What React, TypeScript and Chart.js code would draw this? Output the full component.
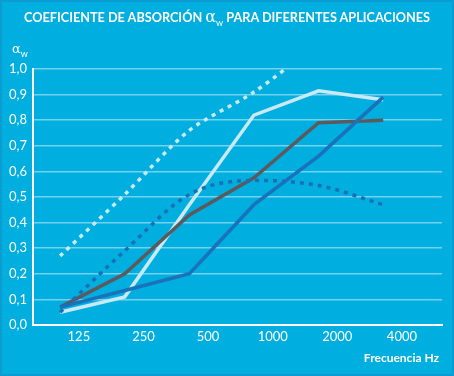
import React, { useEffect, useRef } from "react";
import { Chart, registerables } from "chart.js";

Chart.register(...registerables);

const categories = ["125", "250", "500", "1000", "2000", "4000"];
const yTicks = [0, 0.1, 0.2, 0.3, 0.4, 0.5, 0.6, 0.7, 0.8, 0.9, 1.0];

const grayLine = [0.07, 0.2, 0.43, 0.575, 0.79, 0.8];
const blueLine = [0.07, 0.135, 0.2, 0.47, 0.66, 0.89];
const lightLine = [0.05, 0.11, 0.47, 0.82, 0.915, 0.88];
const lightDashed = [0.27, 0.51, 0.76, 0.91, 1.1, null];
const blueDashed = [0.05, 0.29, 0.51, 0.565, 0.545, 0.47];

const BG = "#00AEE0";
const FONT = "Lato, 'Noto Sans', sans-serif";

const toPoints = (arr: (number | null)[]) =>
  arr.map((v, i) => ({ x: i, y: v }));

export default function App() {
  const ref = useRef<HTMLCanvasElement | null>(null);

  useEffect(() => {
    document.body.style.margin = "0";
    if (!ref.current) return;
    const chart = new Chart(ref.current, {
      type: "line",
      data: {
        datasets: [
          {
            data: toPoints(lightDashed),
            borderColor: "#c9e9f6",
            borderWidth: 3.5,
            borderDash: [4, 5],
            tension: 0.3,
            pointRadius: 0,
            spanGaps: false,
          },
          {
            data: toPoints(blueDashed),
            borderColor: "#1a6fb6",
            borderWidth: 3.5,
            borderDash: [4, 5],
            cubicInterpolationMode: "monotone",
            pointRadius: 0,
          },
          {
            data: toPoints(blueLine),
            borderColor: "#1a72ba",
            borderWidth: 3.5,
            tension: 0,
            pointRadius: 0,
          },
          {
            data: toPoints(grayLine),
            borderColor: "#5b5b5d",
            borderWidth: 3.5,
            tension: 0,
            pointRadius: 0,
          },
          {
            data: toPoints(lightLine),
            borderColor: "#c9e9f6",
            borderWidth: 3.5,
            tension: 0,
            pointRadius: 0,
          },
        ],
      },
      options: {
        animation: false,
        responsive: false,
        layout: { padding: { left: 0, right: 12, top: 69, bottom: 0 } },
        plugins: { legend: { display: false }, tooltip: { enabled: false } },
        scales: {
          x: {
            type: "linear",
            min: -0.42,
            max: 5.91,
            afterBuildTicks: (scale: any) => {
              scale.ticks = categories.map((_, i) => ({ value: i + 0.29 }));
            },
            afterFit: (scale: any) => {
              scale.height = 51;
            },
            ticks: {
              color: "#ffffff",
              font: { family: FONT, size: 13 },
              padding: 4,
              autoSkip: false,
              maxRotation: 0,
              callback: (v: any) => {
                const i = Math.round(Number(v) - 0.29);
                return categories[i] ?? "";
              },
            },
            grid: { display: false, drawTicks: false },
            border: { color: "#ffffff", width: 2 },
            title: {
              display: true,
              text: "Frecuencia Hz ",
              align: "end",
              color: "#ffffff",
              font: { family: FONT, size: 12, weight: "bold" },
              padding: { top: 0, bottom: 11 },
            },
          },
          y: {
            min: 0,
            max: 1,
            afterBuildTicks: (scale: any) => {
              scale.ticks = yTicks.map((v) => ({ value: v }));
            },
            afterFit: (scale: any) => {
              scale.width = 33;
            },
            ticks: {
              color: "#ffffff",
              font: { family: FONT, size: 13 },
              padding: 6,
              callback: (v: any) => Number(v).toFixed(1).replace(".", ","),
            },
            grid: {
              color: "rgba(255,255,255,0.45)",
              lineWidth: 1.5,
              drawTicks: false,
            },
            border: { color: "#ffffff", width: 2 },
          },
        },
      },
    });
    return () => chart.destroy();
  }, []);

  return (
    <div
      style={{
        position: "relative",
        width: 454,
        height: 376,
        background: BG,
        overflow: "hidden",
        fontFamily: FONT,
      }}
    >
      <canvas
        ref={ref}
        width={454}
        height={376}
        style={{ position: "absolute", left: 0, top: 0 }}
      />
      <div
        style={{
          position: "absolute",
          left: 0,
          top: 7,
          width: 454,
          textAlign: "center",
          color: "#ffffff",
          fontWeight: "bold",
          fontSize: 12.7,
          whiteSpace: "nowrap",
        }}
      >
        COEFICIENTE DE ABSORCIÓN{" "}
        <span style={{ fontFamily: "'DejaVu Serif', serif", fontWeight: "normal", fontSize: 16 }}>α</span>
        <sub style={{ fontSize: 9, fontWeight: "normal" }}>w</sub> PARA DIFERENTES APLICACIONES
      </div>
      <div
        style={{
          position: "absolute",
          left: 12,
          top: 37,
          color: "#ffffff",
          whiteSpace: "nowrap",
        }}
      >
        <span style={{ fontFamily: "'DejaVu Serif', serif", fontSize: 13 }}>α</span>
        <sub style={{ fontSize: 9 }}>w</sub>
      </div>
      <div
        style={{
          position: "absolute",
          inset: 0,
          border: "2px solid #0d9ccf",
          pointerEvents: "none",
        }}
      />
    </div>
  );
}
